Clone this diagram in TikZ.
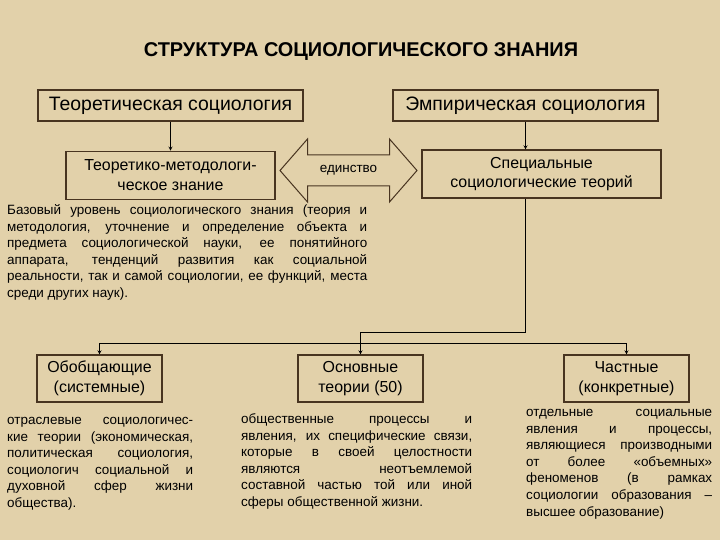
\documentclass[tikz,border=0pt]{standalone}
\usepackage{fontspec}
\setmainfont{Liberation Sans}
\usetikzlibrary{
  arrows.meta,
  positioning,  % Function "of" (e.g. [below=of x])
}
\definecolor{parchment}{RGB}{226,209,170}
\definecolor{frame}{RGB}{72,52,32}
\def\mytextfont{\fontsize{13.5}{16.6}\selectfont}
\def\myboxfont{\fontsize{16}{19.5}\selectfont}
\tikzset{
  semithick,
  >=stealth,
  my box/.style={
    draw=frame,
    line width=1.2bp,
    align=center,
    inner sep=0mm,
    font=\myboxfont
  },
  my box wide/.style={
    my box,
    minimum width=265bp,
    minimum height=31bp,
    font=\fontsize{19.5}{22}\selectfont
  },
  my box low/.style={
    my box,
    minimum width=125bp,
    minimum height=47bp
  },
  my text/.style={
    align=justify,
    inner sep=0mm,
    anchor=north west,
    font=\mytextfont,
    execute at begin node=\strut
  },
  my line/.style={
    draw=black,
    line width=0.8bp
  }
}
\begin{document}
\begin{tikzpicture}[x=1bp,y=-1bp]
\fill[parchment] (0,0) rectangle (720,540);
\useasboundingbox (0,0) rectangle (720,540);

\node[font=\fontsize{20}{24}\selectfont\bfseries] (title) at (361,52)
  {СТРУКТУРА СОЦИОЛОГИЧЕСКОГО ЗНАНИЯ};

\node[my box wide] (theory)  at (170.5,105.5) {Теоретическая социология};
\node[my box wide] (empiric) at (525.5,105.5) {Эмпирическая социология};
\node[my box,minimum width=209bp,minimum height=48bp] (method) [below=29bp of theory]
  {Теоретико-методологи-\\ческое знание};
\node[my box,minimum width=239bp,minimum height=48bp] (special) at (541.5,174)
  {Специальные\\социологические теорий};

% double arrow between the two middle boxes
\node[font=\mytextfont] (unity) at (348.5,170.5) {единство};
\draw[draw=frame,line width=1bp] (unity.center) ++(-68.5,0)
  -- ++(27.5,-31.5) -- ++(0,16) -- ++(82,0) -- ++(0,-16)
  -- ++(27.5,31.5) -- ++(-27.5,31.5) -- ++(0,-16) -- ++(-82,0)
  -- ++(0,16) -- cycle;

\node[my text,text width=360bp] (basetext) at (7,203)
  {Базовый уровень социологического знания (теория и\linebreak
   методология, уточнение и определение объекта и\linebreak
   предмета социологической науки, ее понятийного\linebreak
   аппарата, тенденций развития как социальной\linebreak
   реальности, так и самой социологии, ее функций, места\linebreak
   среди других наук).};

\node[my box low] (general) at (99.5,378.5)  {Обобщающие\\(системные)};
\node[my box low] (basic)   at (360.5,378.5) {Основные\\теории (50)};
\node[my box low] (partial) at (626.5,378.5) {Частные\\(конкретные)};

\node[my text,text width=186bp] (generaltext) at (7,413)
  {отраслевые социологичес-\linebreak
   кие теории (экономическая,\linebreak
   политическая социология,\linebreak
   социологич социальной и\linebreak
   духовной сфер жизни\linebreak
   общества).};
\node[my text,text width=231bp] (basictext) at (241,412)
  {общественные процессы и\linebreak
   явления, их специфические связи,\linebreak
   которые в своей целостности\linebreak
   являются неотъемлемой\linebreak
   составной частью той или иной\linebreak
   сферы общественной жизни.};
\node[my text,text width=186bp] (partialtext) at (526,405)
  {отдельные социальные\linebreak
   явления и процессы,\linebreak
   являющиеся производными\linebreak
   от более «объемных»\linebreak
   феноменов (в рамках\linebreak
   социологии образования –\linebreak
   высшее образование)};

% connectors
\coordinate (split) at (525.5,332);
\coordinate (bar)   at (0,343);
\path[my line,->] (theory.south)  -- (theory.south |- method.north);
\path[my line,->] (empiric.south) -- (empiric.south |- special.north);
\path[my line,->] (special.south -| split) -- (split) -| (basic.north);
\path[my line,<->] (general.north) -- (general.north |- bar)
  -- (partial.north |- bar) -- (partial.north);
\end{tikzpicture}
\end{document}
